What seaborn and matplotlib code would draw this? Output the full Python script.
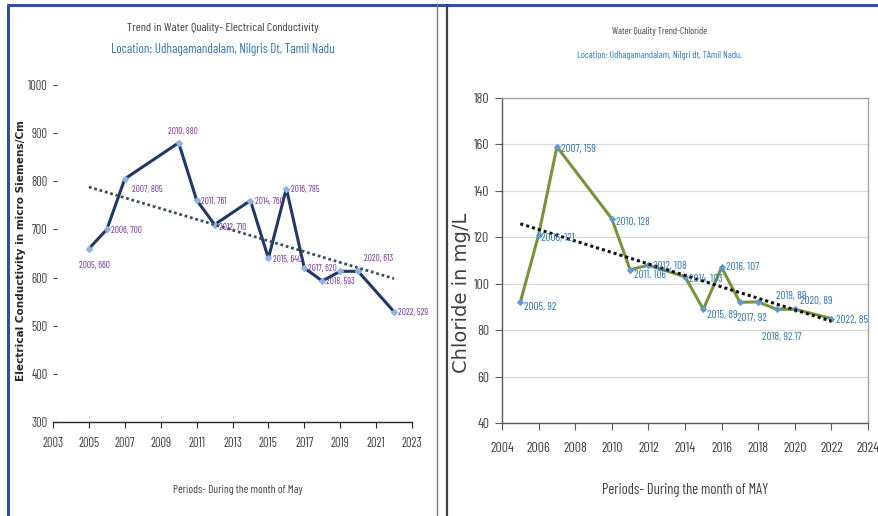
import numpy as np
import pandas as pd
import matplotlib
matplotlib.use("Agg")
import matplotlib.pyplot as plt
from matplotlib.lines import Line2D
from matplotlib.font_manager import FontProperties
import seaborn as sns

# Electrical conductivity (micro Siemens/cm), May readings
ec_years = [2005, 2006, 2007, 2010, 2011, 2012, 2014, 2015, 2016, 2017, 2018, 2019, 2020, 2022]
ec_values = [660, 700, 805, 880, 761, 710, 760, 640, 785, 620, 593, 613, 613, 529]
ec_labels = ["2005, 660", "2006, 700", "2007, 805", "2010, 880", "2011, 761", "2012, 710",
             "2014, 760", "2015, 640", "2016, 785", "2017, 620", "2018, 593", "", "2020, 613",
             "2022, 529"]

# Chloride (mg/L), May readings
cl_years = [2005, 2006, 2007, 2010, 2011, 2012, 2014, 2015, 2016, 2017, 2018, 2019, 2020, 2022]
cl_values = [92, 121, 159, 128, 106, 108, 103, 89, 107, 92, 92.17, 89, 89, 85]
cl_labels = ["2005, 92", "2006, 121", "2007, 159", "2010, 128", "2011, 106", "2012, 108",
             "2014, 103", "2015, 89", "2016, 107", "2017, 92", "2018, 92.17", "2019, 89",
             "2020, 89", "2022, 85"]

sns.set_theme(style="white")
plt.rcParams["font.family"] = ["Barlow Condensed", "PT Sans Narrow", "Roboto Condensed", "DejaVu Sans"]

fig = plt.figure(figsize=(8.79, 5.16), dpi=100)

# panel frames
fig.add_artist(Line2D([8 / 879, 8 / 879], [0, 1 - 5 / 516], color="#2F4F9F", lw=2.2, transform=fig.transFigure))
fig.add_artist(Line2D([8 / 879, 1], [1 - 5 / 516, 1 - 5 / 516], color="#2F4F9F", lw=2.2, transform=fig.transFigure))
fig.add_artist(Line2D([437 / 879, 437 / 879], [0, 1 - 5 / 516], color="#7F7F7F", lw=1.0, transform=fig.transFigure))
fig.add_artist(Line2D([447 / 879, 447 / 879], [0, 1 - 5 / 516], color="#404040", lw=1.6, transform=fig.transFigure))

# ---------------- Electrical conductivity ----------------
ax1 = fig.add_axes([53 / 879, 1 - 422 / 516, 359 / 879, 337 / 516])
ec_df = pd.DataFrame({"year": ec_years, "value": ec_values})
sns.lineplot(data=ec_df, x="year", y="value", ax=ax1, color="#1F3864", lw=2.2,
             marker="D", markersize=3.2, markerfacecolor="#8DB4E2", markeredgecolor="#8DB4E2")
coef = np.polyfit(ec_years, ec_values, 1)
tx = np.array([ec_years[0], ec_years[-1]])
ax1.plot(tx, np.polyval(coef, tx), color="#3A5160", lw=2.0, ls=(0, (1, 1)))

ax1.set_xlim(2003, 2023)
ax1.set_ylim(300, 1000)
ax1.set_xticks(range(2003, 2024, 2))
ax1.set_yticks(range(300, 1001, 100))
for s in ["top", "right", "left"]:
    ax1.spines[s].set_visible(False)
ax1.spines["bottom"].set_color("#262626")
ax1.spines["bottom"].set_linewidth(1.0)
ax1.tick_params(axis="x", bottom=True, length=4, width=0.8, color="#262626",
                labelsize=9, labelcolor="#404040", pad=7)
ax1.tick_params(axis="y", left=True, length=3, width=0.8, color="#404040",
                labelsize=9, labelcolor="#404040", pad=4, direction="in")
ax1.set_xlabel("Periods- During the month of May", fontsize=8.2, color="#404040")
ax1.xaxis.set_label_coords(0.515, -0.187)
ax1.set_ylabel("Electrical Conductivity in micro Siemens/Cm", color="#262626",
               fontproperties=FontProperties(family="DejaVu Sans", weight="bold", size=7.6))
ax1.yaxis.set_label_coords(-0.076, 0.51)

ec_off = {2005: (-7, -15), 2006: (3, -4), 2007: (5, -11), 2010: (-8, 5), 2011: (3, -4),
          2012: (3, -5), 2014: (3, -4), 2015: (3, -4), 2016: (3, -4), 2017: (3, -4),
          2018: (3, -4), 2020: (4, 6), 2022: (3, -4)}
for x, y, t in zip(ec_years, ec_values, ec_labels):
    if not t:
        continue
    dx, dy = ec_off[x]
    ax1.annotate(t, (x, y), xytext=(dx, dy), textcoords="offset points",
                 fontsize=6.6, color="#7030A0", ha="left", va="bottom")

fig.text(223 / 879, 1 - 28 / 516, "Trend in Water Quality- Electrical Conductivity",
         ha="center", va="center", fontsize=8.8, color="#404040")
fig.text(223 / 879, 1 - 49 / 516, "Location: Udhagamandalam, Nilgris Dt, Tamil Nadu",
         ha="center", va="center", fontsize=9.4, color="#2E75B6")

# ---------------- Chloride ----------------
ax2 = fig.add_axes([502 / 879, 1 - 423 / 516, 366 / 879, 325 / 516])
cl_df = pd.DataFrame({"year": cl_years, "value": cl_values})
sns.lineplot(data=cl_df, x="year", y="value", ax=ax2, color="#77933C", lw=2.2,
             marker="D", markersize=3.0, markerfacecolor="#5B9BD5", markeredgecolor="#5B9BD5")
coef2 = np.polyfit(cl_years, cl_values, 1)
tx2 = np.array([cl_years[0], cl_years[-1]])
ax2.plot(tx2, np.polyval(coef2, tx2), color="#111111", lw=2.2, ls=(0, (1, 1)))

ax2.set_xlim(2004, 2024)
ax2.set_ylim(40, 180)
ax2.set_xticks(range(2004, 2025, 2))
ax2.set_yticks(range(40, 181, 20))
ax2.grid(axis="y", color="#D9D9D9", lw=0.9)
ax2.grid(axis="x", visible=False)
for s in ["top", "right"]:
    ax2.spines[s].set_color("#A6A6A6")
    ax2.spines[s].set_linewidth(1.0)
for s in ["left", "bottom"]:
    ax2.spines[s].set_color("#595959")
    ax2.spines[s].set_linewidth(1.0)
ax2.tick_params(axis="x", bottom=True, length=5, width=0.8, color="#595959",
                labelsize=10, labelcolor="#404040", pad=9)
ax2.tick_params(axis="y", left=True, length=5, width=0.8, color="#595959",
                labelsize=10, labelcolor="#404040", pad=4)
ax2.set_xlabel("Periods- During the month of MAY", fontsize=10.5, color="#404040")
ax2.xaxis.set_label_coords(0.5, -0.185)
ax2.set_ylabel("Chloride in mg/L", color="#404040",
               fontproperties=FontProperties(family="DejaVu Sans", size=14))
ax2.yaxis.set_label_coords(-0.085, 0.4)

cl_off = {2005: (3, -7), 2006: (2, -6), 2007: (3, -5), 2010: (3, -6), 2011: (3, -7),
          2012: (3, -4), 2014: (3, -5), 2015: (3, -8), 2016: (3, -3), 2017: (-2, -15),
          2018: (3, -29), 2019: (0, 6), 2020: (4, 2), 2022: (3, -5)}
for x, y, t in zip(cl_years, cl_values, cl_labels):
    dx, dy = cl_off[x]
    ax2.annotate(t, (x, y), xytext=(dx, dy), textcoords="offset points",
                 fontsize=8, color="#2E75B6", ha="left", va="bottom")

fig.text(660 / 879, 1 - 32 / 516, "Water Quality Trend-Chloride",
         ha="center", va="center", fontsize=7, color="#404040")
fig.text(660 / 879, 1 - 55 / 516, "Location: Udhagamandalam, Nilgri dt, TAmil Nadu.",
         ha="center", va="center", fontsize=7, color="#2E75B6")

fig.savefig("out.png", dpi=100, facecolor="white")
